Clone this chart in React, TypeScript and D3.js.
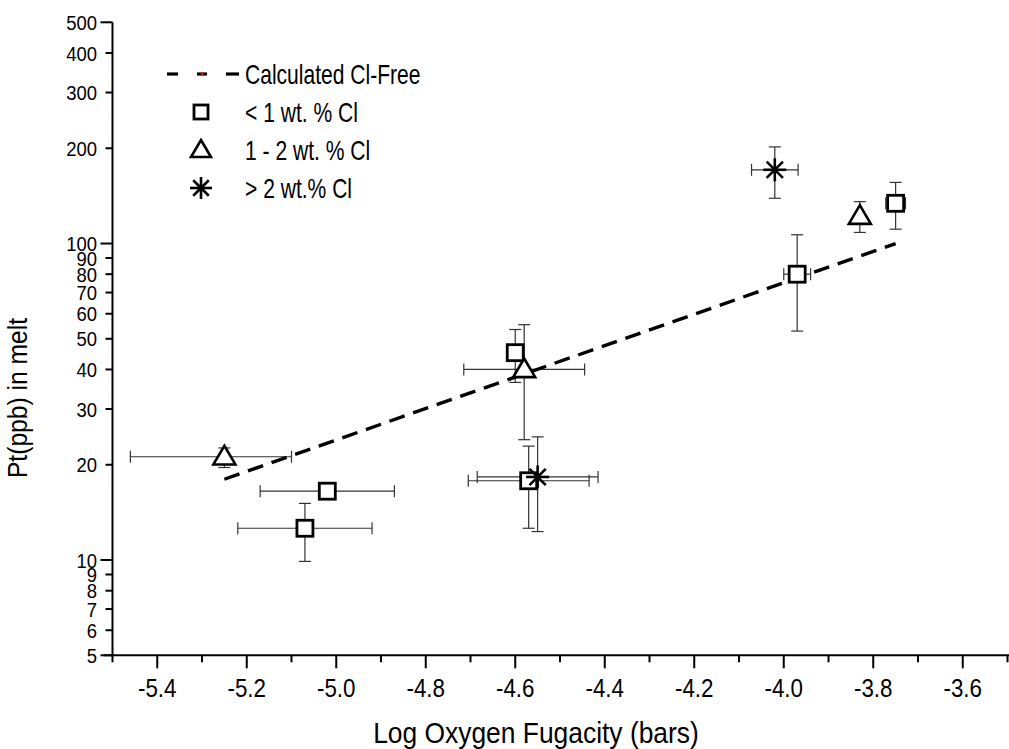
import React from "react";
import * as d3 from "d3";

const W = 1009;
const H = 749;

const xDomain = [-5.5, -3.5];
const yDomain = [5, 500];
const xMajorTicks = [-5.4, -5.2, -5.0, -4.8, -4.6, -4.4, -4.2, -4.0, -3.8, -3.6];
const xMajorLabels = ["-5.4", "-5.2", "-5.0", "-4.8", "-4.6", "-4.4", "-4.2", "-4.0", "-3.8", "-3.6"];
const xMinorTicks = [-5.5, -5.3, -5.1, -4.9, -4.7, -4.5, -4.3, -4.1, -3.9, -3.7, -3.5];
const yTickValues = [5, 6, 7, 8, 9, 10, 20, 30, 40, 50, 60, 70, 80, 90, 100, 200, 300, 400, 500];
const yLongTicks = [5, 10, 100, 500];

// < 1 wt.% Cl (squares)
const lowX = [-5.07, -5.02, -4.6, -4.57, -3.97, -3.75];
const lowY = [12.6, 16.5, 45.2, 17.8, 80, 134];
const lowXLo = [-5.22, -5.17, -4.6, -4.705, -4.0, -3.772];
const lowXHi = [-4.92, -4.87, -4.6, -4.435, -3.94, -3.728];
const lowYLo = [9.9, 15.6, 36.4, 12.6, 52.9, 111];
const lowYHi = [15.1, 17.5, 53.5, 22.9, 106.6, 156];

// 1 - 2 wt.% Cl (triangles)
const midX = [-5.25, -4.58, -3.83];
const midY = [21.2, 40, 122];
const midXLo = [-5.46, -4.715, -3.83];
const midXHi = [-5.1, -4.445, -3.83];
const midYLo = [19.6, 24, 108.4];
const midYHi = [22.6, 55.4, 135.6];

// > 2 wt.% Cl (stars)
const highX = [-4.55, -4.02];
const highY = [18.3, 171];
const highXLo = [-4.685, -4.072];
const highXHi = [-4.415, -3.968];
const highYLo = [12.3, 139];
const highYHi = [24.5, 202];

// Calculated Cl-free line
const lineX = [-5.25, -3.75];
const lineY = [18, 100];

const legendLabels = ["Calculated Cl-Free", "< 1 wt. % Cl", "1 - 2 wt. % Cl", "> 2 wt.% Cl"];

const FONT = "'Liberation Sans', Arial, Helvetica, sans-serif";

type Pt = { x: number; y: number; xLo: number; xHi: number; yLo: number; yHi: number };

function zip(x: number[], y: number[], xLo: number[], xHi: number[], yLo: number[], yHi: number[]): Pt[] {
  return x.map((v, i) => ({ x: v, y: y[i], xLo: xLo[i], xHi: xHi[i], yLo: yLo[i], yHi: yHi[i] }));
}

const Square = ({ cx, cy, s = 8 }: { cx: number; cy: number; s?: number }) => (
  <rect x={cx - s} y={cy - s} width={2 * s} height={2 * s} fill="white" stroke="black" strokeWidth={2.8} />
);

const Triangle = ({ cx, cy, s = 11 }: { cx: number; cy: number; s?: number }) => (
  <path
    d={`M${cx},${cy - s} L${cx + s * 1.0},${cy + s * 0.7} L${cx - s * 1.0},${cy + s * 0.7} Z`}
    fill="white"
    stroke="black"
    strokeWidth={2.6}
    strokeLinejoin="miter"
  />
);

const Star = ({ cx, cy, r = 11.5 }: { cx: number; cy: number; r?: number }) => {
  const angles = [0, 45, 90, 135];
  return (
    <g stroke="black" strokeWidth={2.6}>
      {angles.map((a) => {
        const rad = (a * Math.PI) / 180;
        const dx = Math.cos(rad) * r;
        const dy = Math.sin(rad) * r;
        return <line key={a} x1={cx - dx} y1={cy - dy} x2={cx + dx} y2={cy + dy} />;
      })}
    </g>
  );
};

const sx = (cx: number, k: number) => `translate(${cx},0) scale(${k},1) translate(${-cx},0)`;

export default function App() {
  const x = d3.scaleLinear().domain(xDomain).range([112.5, 1007.5]);
  const y = d3.scaleLog().domain(yDomain).range([655.3, 22.3]);

  const low = zip(lowX, lowY, lowXLo, lowXHi, lowYLo, lowYHi);
  const mid = zip(midX, midY, midXLo, midXHi, midYLo, midYHi);
  const high = zip(highX, highY, highXLo, highXHi, highYLo, highYHi);
  const all = [...low, ...mid, ...high];

  const lineGen = d3
    .line<number>()
    .x((_, i) => x(lineX[i]))
    .y((d) => y(d));

  const cap = 6;
  const errBars = all.map((p, i) => {
    const px = x(p.x);
    const py = y(p.y);
    const parts: React.ReactNode[] = [];
    if (p.yHi > p.yLo) {
      parts.push(<line key="v" x1={px} x2={px} y1={y(p.yHi)} y2={y(p.yLo)} />);
      parts.push(<line key="vt" x1={px - cap} x2={px + cap} y1={y(p.yHi)} y2={y(p.yHi)} />);
      parts.push(<line key="vb" x1={px - cap} x2={px + cap} y1={y(p.yLo)} y2={y(p.yLo)} />);
    }
    if (p.xHi > p.xLo) {
      parts.push(<line key="h" x1={x(p.xLo)} x2={x(p.xHi)} y1={py} y2={py} />);
      parts.push(<line key="hl" x1={x(p.xLo)} x2={x(p.xLo)} y1={py - cap} y2={py + cap} />);
      parts.push(<line key="hr" x1={x(p.xHi)} x2={x(p.xHi)} y1={py - cap} y2={py + cap} />);
    }
    return <g key={i}>{parts}</g>;
  });

  const axisY0 = y(yDomain[0]);
  const axisX0 = x(xDomain[0]);

  const legendY = [74, 112, 150, 188];
  const legendMarkX = 201;
  const legendTextX = 245;

  return (
    <svg
      width={W}
      height={H}
      style={{ position: "absolute", left: 0, top: 0, background: "white" }}
      fontFamily={FONT}
    >
      <rect x={0} y={0} width={W} height={H} fill="white" />

      {/* error bars */}
      <g stroke="#333" strokeWidth={1.2} fill="none">
        {errBars}
      </g>

      {/* calculated line */}
      <path d={lineGen(lineY) || ""} fill="none" stroke="black" strokeWidth={3.4} strokeDasharray="16 9" />

      {/* markers */}
      {low.map((p, i) => (
        <Square key={"s" + i} cx={x(p.x)} cy={y(p.y)} />
      ))}
      {mid.map((p, i) => (
        <Triangle key={"t" + i} cx={x(p.x)} cy={y(p.y)} />
      ))}
      {high.map((p, i) => (
        <Star key={"h" + i} cx={x(p.x)} cy={y(p.y)} />
      ))}

      {/* axes */}
      <g stroke="black" strokeWidth={2}>
        <line x1={axisX0} x2={axisX0} y1={y(yDomain[1])} y2={axisY0 + 1} />
        <line x1={104} x2={W} y1={axisY0} y2={axisY0} />
        {xMajorTicks.map((t) => (
          <line key={"xm" + t} x1={x(t)} x2={x(t)} y1={axisY0} y2={axisY0 + 13} />
        ))}
        {xMinorTicks.map((t) => (
          <line key={"xn" + t} x1={x(t)} x2={x(t)} y1={axisY0} y2={axisY0 + 7} />
        ))}
        {yTickValues.map((t) => (
          <line
            key={"yt" + t}
            x1={axisX0 - (yLongTicks.includes(t) ? 12 : 7)}
            x2={axisX0}
            y1={y(t)}
            y2={y(t)}
          />
        ))}
      </g>

      {/* tick labels */}
      <g fontSize={26} textAnchor="middle" fill="black">
        {xMajorTicks.map((t, i) => (
          <text key={"xl" + t} x={x(t)} y={697} transform={sx(x(t), 0.86)}>
            {xMajorLabels[i]}
          </text>
        ))}
      </g>
      <g fontSize={21} textAnchor="end" fill="black">
        {yTickValues.map((t) => (
          <text key={"yl" + t} x={97} y={y(t)} dy="0.36em" transform={sx(97, 0.88)}>
            {String(t)}
          </text>
        ))}
      </g>

      {/* axis titles */}
      <text x={536} y={743} fontSize={30} textAnchor="middle" transform={sx(536, 0.88)}>
        Log Oxygen Fugacity (bars)
      </text>
      <text x={0} y={0} fontSize={28} textAnchor="middle" transform={`translate(27,398) rotate(-90) scale(0.88,1)`}>
        Pt(ppb) in melt
      </text>

      {/* legend */}
      <g stroke="black" strokeWidth={3.2}>
        <line x1={167} x2={178} y1={legendY[0]} y2={legendY[0]} />
        <line x1={197} x2={207} y1={legendY[0]} y2={legendY[0]} />
        <line x1={226} x2={239} y1={legendY[0]} y2={legendY[0]} />
      </g>
      <circle cx={202} cy={legendY[0]} r={1.4} fill="red" />
      <Square cx={legendMarkX} cy={legendY[1]} s={7} />
      <Triangle cx={legendMarkX} cy={legendY[2]} s={10} />
      <Star cx={legendMarkX} cy={legendY[3]} r={11} />
      <g fontSize={27} fill="black">
        {legendLabels.map((l, i) => (
          <text key={l} x={legendTextX} y={legendY[i]} dy="0.36em" transform={sx(legendTextX, 0.78)}>
            {l}
          </text>
        ))}
      </g>
    </svg>
  );
}
